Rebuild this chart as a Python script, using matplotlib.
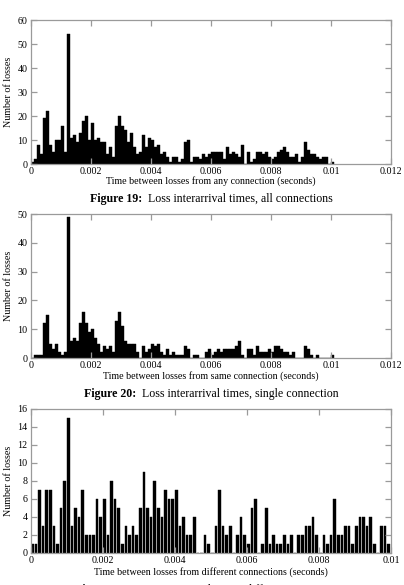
import matplotlib
matplotlib.use("Agg")
import matplotlib.pyplot as plt
import numpy as np

plt.rcParams['font.family'] = ['Liberation Serif', 'DejaVu Serif']

# ---------------- data ----------------
bin_width = 0.0001

# Figure 19: all connections (counts per 0.0001 s bin, from 0 to 0.0100)
all_counts = [1, 2, 8, 4, 19, 22, 8, 5, 10, 10,
              16, 5, 54, 11, 12, 9, 13, 18, 20, 10,
              17, 10, 11, 9, 9, 4, 7, 3, 16, 20,
              16, 14, 9, 13, 7, 4, 5, 12, 7, 11,
              10, 7, 8, 4, 5, 3, 1, 3, 3, 1,
              2, 9, 10, 1, 3, 3, 2, 4, 3, 4,
              5, 5, 5, 5, 2, 7, 4, 5, 4, 3,
              8, 0, 5, 1, 2, 5, 5, 4, 5, 3,
              2, 3, 5, 6, 7, 5, 3, 3, 4, 1,
              3, 9, 6, 4, 4, 3, 2, 3, 3, 0,
              1]

# Figure 20: same connection
same_counts = [0, 1, 1, 1, 12, 15, 5, 3, 5, 2,
               1, 2, 49, 6, 7, 6, 12, 16, 12, 9,
               10, 7, 5, 2, 4, 3, 4, 2, 13, 16,
               11, 6, 5, 5, 5, 2, 0, 4, 2, 3,
               5, 4, 5, 2, 1, 3, 1, 2, 1, 1,
               1, 4, 3, 0, 1, 1, 0, 0, 2, 3,
               1, 2, 3, 2, 3, 3, 3, 3, 4, 6,
               1, 0, 3, 3, 1, 4, 2, 2, 2, 3,
               2, 4, 4, 3, 2, 2, 1, 2, 0, 0,
               0, 4, 3, 1, 0, 1, 0, 0, 0, 0,
               1]

# Figure 21: different connections
diff_counts = [1, 1, 7, 3, 7, 7, 3, 1, 5, 8,
               15, 3, 5, 4, 7, 2, 2, 2, 6, 4,
               6, 2, 8, 6, 5, 1, 3, 2, 3, 2,
               5, 9, 5, 4, 8, 5, 4, 7, 6, 6,
               7, 3, 4, 2, 2, 4, 0, 0, 2, 1,
               0, 3, 7, 3, 2, 3, 0, 2, 4, 2,
               1, 5, 6, 0, 1, 5, 1, 2, 1, 1,
               2, 1, 2, 0, 2, 2, 3, 3, 4, 2,
               0, 2, 1, 2, 6, 2, 2, 3, 3, 1,
               3, 4, 4, 3, 4, 1, 0, 3, 3, 1]

x_ticks_wide = [0, 0.002, 0.004, 0.006, 0.008, 0.01, 0.012]
x_ticklabels_wide = ["0", "0.002", "0.004", "0.006", "0.008", "0.01", "0.012"]
x_ticks_narrow = [0, 0.002, 0.004, 0.006, 0.008, 0.01]
x_ticklabels_narrow = ["0", "0.002", "0.004", "0.006", "0.008", "0.01"]

xlabels = ["Time between losses from any connection (seconds)",
           "Time between losses from same connection (seconds)",
           "Time between losses from different connections (seconds)"]
captions = [("Figure 19:", "Loss interarrival times, all connections"),
            ("Figure 20:", "Loss interarrival times, single connection"),
            ("Figure 21:", "Loss interarrival times, different connections")]
ylabel = "Number of losses"

# ---------------- layout ----------------
W, H = 404, 585
fig = plt.figure(figsize=(W / 100, H / 100), dpi=100)

def rect(left, top, right, bottom):
    return [left / W, (H - bottom) / H, (right - left) / W, (bottom - top) / H]

frame_col = "#9a9a9a"
fs_tick = 7.2
fs_cap = 8.6

panels = [
    dict(counts=all_counts, rect=rect(31, 20, 391, 164), xlim=(0, 0.012),
         ylim=(0, 60), yticks=np.arange(0, 61, 10), xt=x_ticks_wide,
         xtl=x_ticklabels_wide, width=1.0, xl_y=181.5, cap_y=199),
    dict(counts=same_counts, rect=rect(31, 214, 391, 358), xlim=(0, 0.012),
         ylim=(0, 50), yticks=np.arange(0, 51, 10), xt=x_ticks_wide,
         xtl=x_ticklabels_wide, width=1.0, xl_y=376.5, cap_y=394),
    dict(counts=diff_counts, rect=rect(31, 409, 391, 553), xlim=(0, 0.01),
         ylim=(0, 16), yticks=np.arange(0, 17, 2), xt=x_ticks_narrow,
         xtl=x_ticklabels_narrow, width=0.74, xl_y=572, cap_y=590),
]

for i, p in enumerate(panels):
    ax = fig.add_axes(p["rect"])
    counts = np.array(p["counts"])
    lefts = np.arange(len(counts)) * bin_width
    ax.bar(lefts, counts, width=bin_width * p["width"], align="edge",
           color="black", edgecolor="black", linewidth=0.3, zorder=1)
    ax.set_xlim(*p["xlim"])
    ax.set_ylim(*p["ylim"])
    ax.set_xticks(p["xt"])
    ax.set_xticklabels(p["xtl"])
    ax.set_yticks(p["yticks"])
    for s in ax.spines.values():
        s.set_color(frame_col)
        s.set_linewidth(0.9)
    ax.tick_params(direction="in", length=4.5, width=0.9, color=frame_col,
                   top=True, right=True, labelsize=fs_tick, pad=2.5,
                   labelcolor="black")
    ax.set_ylabel(ylabel, fontsize=fs_tick, labelpad=3)
    cx = (31 + 391) / 2 / W
    fig.text(cx, (H - p["xl_y"]) / H, xlabels[i], fontsize=fs_tick,
             ha="center", va="center")
    bold, rest = captions[i]
    t1 = fig.text(cx - 0.0, (H - p["cap_y"]) / H, bold + "  ", fontsize=fs_cap,
                  fontweight="bold", ha="right", va="center")
    # place bold and regular parts so the whole caption is centred
    fig.canvas.draw()
    r = fig.canvas.get_renderer()
    wb = t1.get_window_extent(r).width
    t2 = fig.text(0, 0, rest, fontsize=fs_cap)
    wr = t2.get_window_extent(r).width
    t2.remove()
    total = wb + wr
    start = (31 + 391) / 2 - total / 2
    t1.set_ha("left")
    t1.set_x(start / W)
    fig.text((start + wb) / W, (H - p["cap_y"]) / H, rest, fontsize=fs_cap,
             ha="left", va="center")

fig.savefig("out.png", dpi=100)
